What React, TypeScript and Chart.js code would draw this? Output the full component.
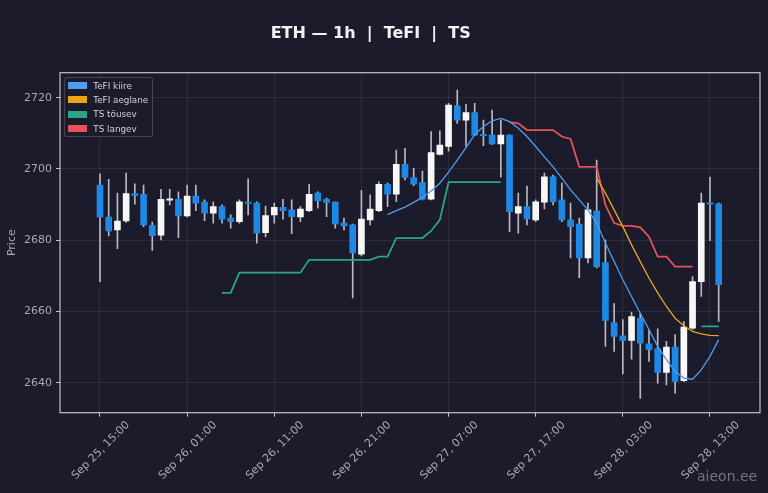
import React, { useEffect, useRef } from 'react';
import { Chart, registerables } from 'chart.js';

Chart.register(...registerables);

// ---- data (hourly candles, index 0 = Sep 25, 15:00) ----
const opens = [
  2695.5, 2686.5, 2682.9, 2685.4, 2693.1, 2692.9, 2684.2, 2681.4, 2691.2, 2691.5,
  2686.8, 2692.4, 2690.7, 2687.6, 2689.4, 2686.2, 2685.2, 2690.7, 2690.4, 2682.1,
  2687.1, 2689.2, 2688.5, 2686.5, 2688.3, 2693.2, 2691.5, 2690.7, 2684.8, 2684.3,
  2676.1, 2685.7, 2688.3, 2695.7, 2692.9, 2701.3, 2697.6, 2696.2, 2691.5, 2704.1,
  2706.3, 2717.7, 2713.7, 2715.8, 2709.7, 2709.5, 2707.0, 2709.5, 2687.6, 2689.4,
  2685.7, 2690.7, 2697.8, 2691.3, 2685.7, 2684.5, 2675.0, 2688.2, 2673.7, 2656.9,
  2653.2, 2651.9, 2658.1, 2650.9, 2649.5, 2642.9, 2650.0, 2640.6, 2655.3, 2668.4,
  2690.4, 2690.2,
];
const highs = [
  2698.6, 2697.1, 2693.2, 2698.8, 2695.8, 2695.5, 2685.1, 2694.3, 2694.3, 2693.6,
  2695.5, 2695.5, 2691.3, 2690.8, 2689.9, 2687.1, 2691.3, 2697.2, 2690.8, 2689.6,
  2690.4, 2691.5, 2691.3, 2689.4, 2695.7, 2693.6, 2691.8, 2690.8, 2686.2, 2684.5,
  2694.0, 2692.7, 2696.4, 2696.0, 2705.3, 2705.8, 2700.2, 2699.4, 2710.5, 2710.7,
  2718.4, 2722.1, 2718.1, 2718.4, 2713.7, 2716.5, 2713.7, 2709.6, 2693.2, 2695.2,
  2691.3, 2698.8, 2698.3, 2696.0, 2690.4, 2686.2, 2690.4, 2702.5, 2680.1, 2662.2,
  2657.7, 2659.8, 2659.5, 2654.9, 2655.1, 2651.6, 2653.5, 2657.2, 2669.8, 2693.2,
  2697.7, 2690.4,
];
const lows = [
  2668.4, 2681.2, 2677.6, 2685.0, 2690.1, 2683.8, 2677.1, 2680.1, 2689.9, 2680.7,
  2686.5, 2688.3, 2685.5, 2684.8, 2684.8, 2683.4, 2684.8, 2687.1, 2679.2, 2680.9,
  2684.8, 2685.9, 2681.8, 2685.2, 2688.0, 2689.0, 2686.6, 2683.4, 2682.9, 2663.8,
  2675.6, 2684.3, 2688.0, 2689.4, 2690.8, 2696.9, 2695.3, 2691.3, 2691.3, 2703.9,
  2705.0, 2712.8, 2706.3, 2709.3, 2706.5, 2706.9, 2697.7, 2682.4, 2682.0, 2684.3,
  2685.2, 2688.8, 2689.9, 2685.2, 2675.0, 2669.5, 2673.6, 2672.2, 2650.2, 2648.8,
  2642.5, 2646.6, 2635.6, 2646.0, 2639.9, 2639.4, 2637.1, 2640.3, 2655.0, 2664.2,
  2679.9, 2657.2,
];
const closes = [
  2686.5, 2682.6, 2685.4, 2693.1, 2692.6, 2684.3, 2681.3, 2691.5, 2691.6, 2686.8,
  2692.4, 2690.4, 2687.6, 2689.4, 2685.9, 2685.2, 2690.8, 2690.3, 2682.0, 2686.9,
  2689.2, 2688.3, 2686.6, 2688.7, 2692.9, 2691.1, 2690.6, 2684.6, 2684.0, 2676.4,
  2685.9, 2688.7, 2695.7, 2692.9, 2701.3, 2697.6, 2695.7, 2691.5, 2704.6, 2706.7,
  2717.9, 2713.7, 2715.8, 2709.5, 2709.3, 2707.0, 2709.5, 2688.0, 2689.4, 2686.0,
  2690.8, 2697.8, 2690.8, 2685.7, 2683.8, 2675.0, 2688.5, 2672.6, 2657.5, 2653.0,
  2651.9, 2658.6, 2651.1, 2649.3, 2642.9, 2650.0, 2640.4, 2655.6, 2668.4, 2690.4,
  2690.1, 2667.5,
];

const tefiKiire = [
  null, null, null, null, null, null, null, null, null, null,
  null, null, null, null, null, null, null, null, null, null,
  null, null, null, null, null, null, null, null, null, null,
  null, null, null, 2687.2, 2688.3, 2689.3, 2690.6, 2692.0, 2693.8, 2696.0,
  2699.1, 2702.5, 2706.0, 2709.6, 2711.9, 2713.5, 2714.2, 2713.3, 2711.4, 2709.1,
  2706.3, 2703.4, 2700.6, 2697.4, 2694.1, 2691.3, 2688.5, 2684.8, 2679.2, 2674.0,
  2668.9, 2664.2, 2659.5, 2654.9, 2650.2, 2646.5, 2643.2, 2641.3, 2641.0, 2643.6,
  2647.4, 2652.1,
];
const tefiAeglane = [
  null, null, null, null, null, null, null, null, null, null,
  null, null, null, null, null, null, null, null, null, null,
  null, null, null, null, null, null, null, null, null, null,
  null, null, null, null, null, null, null, null, null, null,
  null, null, null, null, null, null, null, null, null, null,
  null, null, null, null, null, null, null, 2697.4, 2693.2, 2688.5,
  2683.8, 2678.7, 2674.0, 2669.4, 2665.2, 2661.4, 2658.1, 2656.0, 2654.4, 2653.7,
  2653.3, 2653.2,
];
const tsTousev = [
  null, null, null, null, null, null, null, null, null, null,
  null, null, null, null, 2665.2, 2665.2, 2670.9, 2670.9, 2670.9, 2670.9,
  2670.9, 2670.9, 2670.9, 2670.9, 2674.5, 2674.5, 2674.5, 2674.5, 2674.5, 2674.5,
  2674.5, 2674.5, 2675.4, 2675.4, 2680.6, 2680.6, 2680.6, 2680.6, 2682.6, 2685.7,
  2696.3, 2696.3, 2696.3, 2696.3, 2696.3, 2696.3, 2696.3, null, null, null,
  null, null, null, null, null, null, null, null, null, null,
  null, null, null, null, null, null, null, null, null, 2655.8,
  2655.8, 2655.8,
];
const tsLangev = [
  null, null, null, null, null, null, null, null, null, null,
  null, null, null, null, null, null, null, null, null, null,
  null, null, null, null, null, null, null, null, null, null,
  null, null, null, null, null, null, null, null, null, null,
  null, null, null, null, null, null, null, 2713.1, 2712.8, 2710.9,
  2710.9, 2710.9, 2710.9, 2709.1, 2708.4, 2700.6, 2700.6, 2700.6, 2689.9, 2684.8,
  2684.0, 2684.0, 2683.6, 2681.0, 2675.4, 2675.4, 2672.6, 2672.6, 2672.6, null,
  null, null,
];

const xTickPositions = [0, 10, 20, 30, 40, 50, 60, 70];
const xTickLabels = [
  'Sep 25, 15:00', 'Sep 26, 01:00', 'Sep 26, 11:00', 'Sep 26, 21:00',
  'Sep 27, 07:00', 'Sep 27, 17:00', 'Sep 28, 03:00', 'Sep 28, 13:00',
];
const yTicks = [2640, 2660, 2680, 2700, 2720];

const seriesNames = ['TeFI kiire', 'TeFI aeglane', 'TS tõusev', 'TS langev'];
const seriesColors = ['#4d9df0', '#eaa516', '#2aa58a', '#e5525a'];

const BG = '#1b1b2c';
const UP = '#f7f7f7';
const DOWN = '#1e88e5';
const WICK = '#b9b9c2';
const TEXT = '#a9a9b4';
const FONT = "'DejaVu Sans', sans-serif";

const boxPlugin = {
  id: 'frameBox',
  afterDatasetsDraw(chart: any) {
    const { ctx, chartArea } = chart;
    ctx.save();
    ctx.strokeStyle = '#c4c4ce';
    ctx.lineWidth = 1.2;
    ctx.strokeRect(chartArea.left, chartArea.top, chartArea.right - chartArea.left, chartArea.bottom - chartArea.top);
    ctx.restore();
  },
};

export default function App() {
  const ref = useRef<HTMLCanvasElement | null>(null);

  useEffect(() => {
    if (!ref.current) return;
    const idx = opens.map((_, i) => i);
    const pt = (arr: (number | null)[]) => idx.map((i) => ({ x: i, y: arr[i] }));
    const lineDs = (label: string, arr: (number | null)[], color: string, width: number) => ({
      type: 'line' as const,
      label,
      data: pt(arr),
      borderColor: color,
      backgroundColor: color,
      borderWidth: width,
      pointRadius: 0,
      spanGaps: false,
      tension: 0,
      order: 1,
    });

    const chart = new Chart(ref.current, {
      type: 'bar',
      data: {
        datasets: [
          {
            type: 'bar',
            label: 'wick',
            data: idx.map((i) => ({ x: i, y: [lows[i], highs[i]] })) as any,
            backgroundColor: WICK,
            borderWidth: 0,
            barThickness: 1,
            grouped: false,
            order: 10,
          } as any,
          {
            type: 'bar',
            label: 'body',
            data: idx.map((i) => ({ x: i, y: [opens[i], closes[i]] })) as any,
            backgroundColor: idx.map((i) => (closes[i] >= opens[i] ? UP : DOWN)),
            borderWidth: 0,
            barThickness: 6,
            minBarLength: 1.5,
            grouped: false,
            order: 9,
          } as any,
          lineDs(seriesNames[0], tefiKiire, seriesColors[0], 1.3),
          lineDs(seriesNames[1], tefiAeglane, seriesColors[1], 1.3),
          lineDs(seriesNames[2], tsTousev, seriesColors[2], 1.8),
          lineDs(seriesNames[3], tsLangev, seriesColors[3], 1.8),
        ],
      },
      options: {
        animation: false,
        responsive: false,
        maintainAspectRatio: false,
        devicePixelRatio: 1,
        layout: { padding: { top: 72.7, right: 8, left: 0, bottom: 0 } },
        plugins: {
          legend: { display: false },
          tooltip: { enabled: false },
          title: { display: false },
        },
        scales: {
          x: {
            type: 'linear',
            min: -4.59,
            max: 75.74,
            offset: false,
            afterFit: (s: any) => {
              s.height = 80.3;
            },
            afterBuildTicks: (s: any) => {
              s.ticks = xTickPositions.map((v) => ({ value: v }));
            },
            border: { display: false },
            grid: {
              offset: false,
              color: 'rgba(255,255,255,0.07)',
              tickColor: '#c4c4ce',
              tickLength: 4,
            },
            ticks: {
              color: TEXT,
              font: { family: FONT, size: 11 },
              minRotation: 45,
              maxRotation: 45,
              autoSkip: false,
              labelOffset: 28,
              padding: 2,
              callback: (_v: any, i: number) => xTickLabels[i],
            },
          },
          y: {
            type: 'linear',
            min: 2631.6,
            max: 2727.0,
            afterFit: (s: any) => {
              s.width = 60;
            },
            afterBuildTicks: (s: any) => {
              s.ticks = yTicks.map((v) => ({ value: v }));
            },
            border: { display: false },
            grid: {
              color: 'rgba(255,255,255,0.07)',
              tickColor: '#c4c4ce',
              tickLength: 4,
            },
            ticks: {
              color: TEXT,
              font: { family: FONT, size: 11 },
              padding: 4,
              callback: (v: any) => String(v),
            },
            title: {
              display: true,
              text: 'Price',
              color: TEXT,
              font: { family: FONT, size: 11 },
              padding: { top: 6, bottom: 0 },
            },
          },
        },
      },
      plugins: [boxPlugin],
    } as any);

    return () => chart.destroy();
  }, []);

  const legendRows = [8.4, 22.7, 37, 51.7];

  return (
    <div
      style={{
        position: 'fixed',
        left: 0,
        top: 0,
        width: 768,
        height: 493,
        background: BG,
        overflow: 'hidden',
        fontFamily: FONT,
      }}
    >
      <canvas ref={ref} width={768} height={493} style={{ position: 'absolute', left: 0, top: 0, width: 768, height: 493 }} />
      <div
        style={{
          position: 'absolute',
          left: 0,
          width: 741.4,
          top: 25,
          textAlign: 'center',
          fontWeight: 'bold',
          fontSize: 16,
          lineHeight: '16px',
          color: '#f2f2f4',
          whiteSpace: 'pre',
        }}
      >
        {'ETH — 1h  |  TeFI  |  TS'}
      </div>
      <div
        style={{
          position: 'absolute',
          left: 64.3,
          top: 77.3,
          width: 88.4,
          height: 60,
          boxSizing: 'border-box',
          border: '1px solid rgba(255,255,255,0.18)',
          borderRadius: 3,
          background: 'rgba(27,27,44,0.85)',
        }}
      >
        {seriesNames.map((name, k) => (
          <React.Fragment key={name}>
            <div
              style={{
                position: 'absolute',
                left: 2.4,
                top: legendRows[k] - 1 - 3.5,
                width: 19.6,
                height: 7,
                background: seriesColors[k],
              }}
            />
            <div
              style={{
                position: 'absolute',
                left: 28,
                top: legendRows[k] - 1 - 6,
                fontSize: 8.8,
                lineHeight: '12px',
                color: '#d2d2da',
                whiteSpace: 'pre',
              }}
            >
              {name}
            </div>
          </React.Fragment>
        ))}
      </div>
      <div
        style={{
          position: 'absolute',
          left: 697,
          top: 468,
          fontSize: 14,
          lineHeight: '16px',
          color: 'rgba(200,200,212,0.5)',
          whiteSpace: 'pre',
        }}
      >
        aieon.ee
      </div>
    </div>
  );
}
